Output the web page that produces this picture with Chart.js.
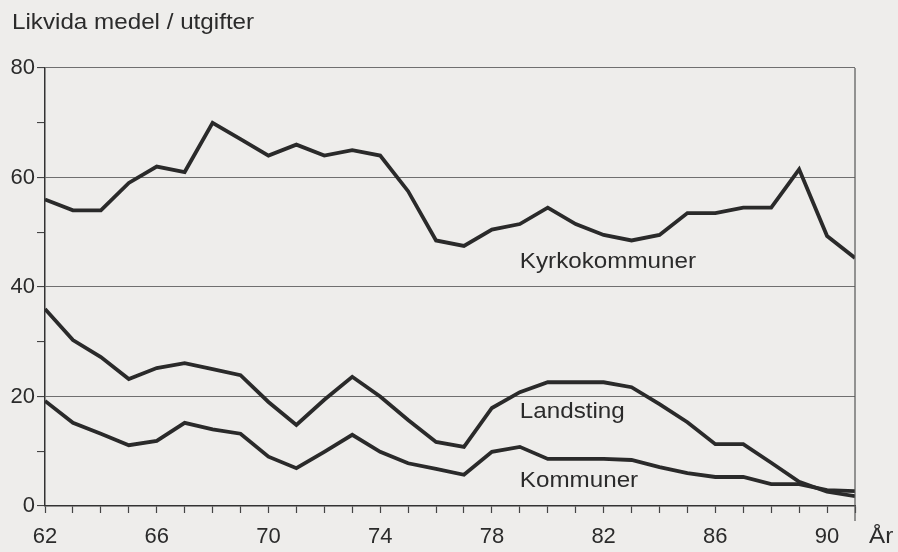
<!DOCTYPE html>
<html>
<head>
<meta charset="utf-8">
<script src="https://cdn.jsdelivr.net/npm/chart.js@4/dist/chart.umd.min.js"></script>
<style>
  html, body { margin: 0; padding: 0; background: #eeedeb; }
  #wrap { width: 898px; height: 552px; position: relative; }
</style>
</head>
<body>
<div id="wrap"><canvas id="chart"></canvas></div>
<script>
// Data
const years = [62, 63, 64, 65, 66, 67, 68, 69, 70, 71, 72, 73, 74, 75, 76,
  77, 78, 79, 80, 81, 82, 83, 84, 85, 86, 87, 88, 89, 90, 91];
const kyrkokommuner = [56, 54, 54, 59, 62, 61, 70, 67, 64, 66, 64, 65, 64, 57.5, 48.5,
  47.5, 50.5, 51.5, 54.5, 51.5, 49.5, 48.5, 49.5, 53.5, 53.5, 54.5, 54.5, 61.5, 49.3, 45.3];
const landsting = [36, 30.3, 27.2, 23.2, 25.2, 26.1, 25, 23.9, 19, 14.8, 19.4, 23.6, 20, 15.7, 11.7,
  10.8, 17.9, 20.8, 22.6, 22.6, 22.6, 21.7, 18.6, 15.3, 11.3, 11.3, 7.9, 4.4, 2.6, 1.8];
const kommuner = [19.2, 15.2, 13.2, 11.1, 11.9, 15.2, 14, 13.2, 9, 6.9, 9.9, 13, 9.9, 7.8, 6.8,
  5.7, 9.9, 10.8, 8.6, 8.6, 8.6, 8.4, 7.1, 6, 5.3, 5.3, 4, 4, 2.9, 2.7];

// Series names written next to the curves: [text, year, value]
const seriesLabels = [
  ['Kyrkokommuner', 79, 44.6],
  ['Landsting', 79, 17.2],
  ['Kommuner', 79, 4.6]
];
const yTitle = 'Likvida medel / utgifter';
const xTitle = 'År';

const ink = '#2a2a2a';
const textColor = '#2b2b2b';
const fontFamily = "'Liberation Sans', Arial, sans-serif";

function toPoints(values) {
  return values.map((v, i) => ({ x: years[i], y: v }));
}

// textos e bordas extras
const extras = {
  id: 'extras',
  afterDraw(chart) {
    const { ctx, chartArea, scales } = chart;
    ctx.save();
    // right border
    ctx.strokeStyle = '#555';
    ctx.lineWidth = 1.2;
    ctx.beginPath();
    ctx.moveTo(chartArea.right, chartArea.top);
    ctx.lineTo(chartArea.right, chartArea.bottom + 15);
    ctx.stroke();

    ctx.fillStyle = textColor;
    ctx.font = '22px ' + fontFamily;
    ctx.textBaseline = 'middle';
    ctx.textAlign = 'left';
    seriesLabels.forEach(([t, x, y]) => {
      const px = scales.x.getPixelForValue(x);
      const py = scales.y.getPixelForValue(y);
      ctx.save();
      ctx.translate(px, py);
      ctx.scale(1.1, 1);
      ctx.fillText(t, 0, 0);
      ctx.restore();
    });

    // axis titles
    ctx.save();
    ctx.translate(12, 23);
    ctx.scale(1.1, 1);
    ctx.fillText(yTitle, 0, 0);
    ctx.restore();

    ctx.save();
    ctx.translate(869, chartArea.bottom + 31);
    ctx.scale(1.1, 1);
    ctx.fillText(xTitle, 0, 0);
    ctx.restore();
    ctx.restore();
  }
};

const mkSet = (label, values) => ({
  label,
  data: toPoints(values),
  borderColor: ink,
  borderWidth: 3.8,
  pointRadius: 0,
  tension: 0,
  borderJoinStyle: 'miter'
});

new Chart(document.getElementById('chart'), {
  type: 'line',
  data: {
    datasets: [
      mkSet('Kyrkokommuner', kyrkokommuner),
      mkSet('Landsting', landsting),
      mkSet('Kommuner', kommuner)
    ]
  },
  options: {
    responsive: true,
    maintainAspectRatio: false,
    animation: false,
    layout: { padding: { top: 68, right: 43, left: 0, bottom: 0 } },
    plugins: { legend: { display: false }, tooltip: { enabled: false } },
    scales: {
      x: {
        type: 'linear',
        min: 62,
        max: 91,
        afterFit(scale) { scale.height = 46; },
        ticks: {
          stepSize: 1,
          autoSkip: false,
          maxRotation: 0,
          color: textColor,
          font: { family: fontFamily, size: 22 },
          padding: 11,
          callback: v => ((v - 62) % 4 === 0 && v <= 90) ? String(v) : ''
        },
        grid: {
          drawOnChartArea: false,
          tickLength: 7,
          tickColor: '#444',
          tickWidth: 1.2
        },
        border: { color: '#333', width: 1.5 }
      },
      y: {
        min: 0,
        max: 80,
        afterFit(scale) { scale.width = 45; },
        ticks: {
          stepSize: 10,
          color: textColor,
          font: { family: fontFamily, size: 22 },
          padding: 2,
          callback: v => v % 20 === 0 ? String(v) : ''
        },
        grid: {
          color: c => (c.tick && c.tick.value % 20 === 0 && c.tick.value > 0) ? '#6f6f6f' : 'rgba(0,0,0,0)',
          lineWidth: 1.1,
          tickLength: 8,
          tickColor: '#444',
          tickWidth: 1.1
        },
        border: { color: '#333', width: 1.5 }
      }
    }
  },
  plugins: [extras]
});
</script>
</body>
</html>
